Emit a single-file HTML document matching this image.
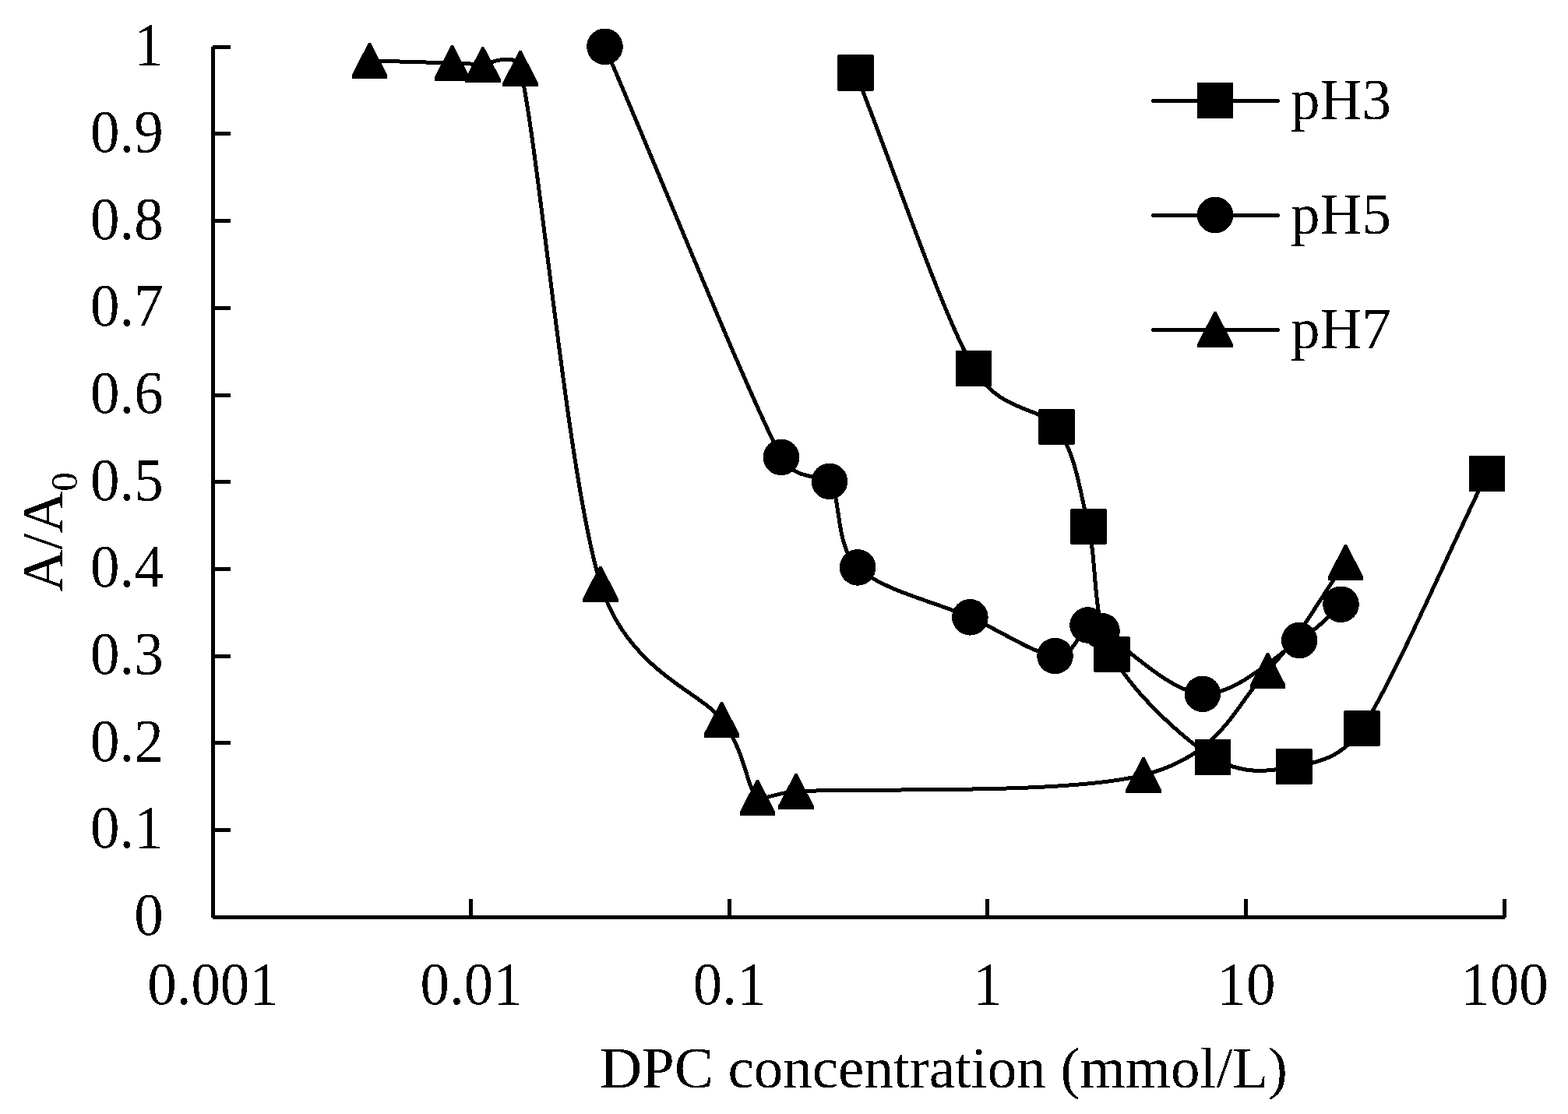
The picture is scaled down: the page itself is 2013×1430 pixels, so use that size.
<!DOCTYPE html><html><head><meta charset="utf-8"><style>html,body{margin:0;padding:0;background:#fff;}svg{display:block;}text{font-family:"Liberation Serif","Times New Roman",serif;font-size:75px;fill:#000;}</style></head><body>
<svg width="2013" height="1430" viewBox="0 0 2013 1430" shape-rendering="crispEdges">
<defs><filter id="bin" x="0" y="0" width="100%" height="100%" filterUnits="userSpaceOnUse"><feComponentTransfer><feFuncA type="discrete" tableValues="0 1"/></feComponentTransfer></filter></defs>
<rect width="100%" height="100%" fill="#fff"/>
<g filter="url(#bin)">
<g fill="#000"><rect x="271" y="60" width="5" height="1118"/><rect x="273" y="1175" width="1659" height="5"/><rect x="273" y="58" width="23" height="5"/><rect x="273" y="169" width="23" height="5"/><rect x="273" y="281" width="23" height="5"/><rect x="273" y="393" width="23" height="5"/><rect x="273" y="505" width="23" height="5"/><rect x="273" y="616" width="23" height="5"/><rect x="273" y="728" width="23" height="5"/><rect x="273" y="840" width="23" height="5"/><rect x="273" y="951" width="23" height="5"/><rect x="273" y="1063" width="23" height="5"/><rect x="273" y="1175" width="23" height="5"/><rect x="602" y="1154" width="5" height="24"/><rect x="934" y="1154" width="5" height="24"/><rect x="1265" y="1154" width="5" height="24"/><rect x="1597" y="1154" width="5" height="24"/><rect x="1929" y="1154" width="5" height="24"/></g>
<text transform="translate(209.75,83.10) scale(1,1.05)" text-anchor="end">1</text>
<text transform="translate(209.75,194.80) scale(1,1.05)" text-anchor="end">0.9</text>
<text transform="translate(209.75,306.50) scale(1,1.05)" text-anchor="end">0.8</text>
<text transform="translate(209.75,418.20) scale(1,1.05)" text-anchor="end">0.7</text>
<text transform="translate(209.75,529.90) scale(1,1.05)" text-anchor="end">0.6</text>
<text transform="translate(209.75,641.60) scale(1,1.05)" text-anchor="end">0.5</text>
<text transform="translate(209.75,753.30) scale(1,1.05)" text-anchor="end">0.4</text>
<text transform="translate(209.75,865.00) scale(1,1.05)" text-anchor="end">0.3</text>
<text transform="translate(209.75,976.70) scale(1,1.05)" text-anchor="end">0.2</text>
<text transform="translate(209.75,1088.40) scale(1,1.05)" text-anchor="end">0.1</text>
<text transform="translate(209.75,1200.10) scale(1,1.05)" text-anchor="end">0</text>
<text transform="translate(273.50,1289) scale(1,1.05)" text-anchor="middle">0.001</text>
<text transform="translate(605.10,1289) scale(1,1.05)" text-anchor="middle">0.01</text>
<text transform="translate(936.70,1289) scale(1,1.05)" text-anchor="middle">0.1</text>
<text transform="translate(1268.30,1289) scale(1,1.05)" text-anchor="middle">1</text>
<text transform="translate(1599.90,1289) scale(1,1.05)" text-anchor="middle">10</text>
<text transform="translate(1931.50,1289) scale(1,1.05)" text-anchor="middle">100</text>
<text x="769.9" y="1396">DPC concentration (mmol/L)</text>
<text transform="translate(79.8,759.8) rotate(-90)">A/A<tspan font-size="49" dy="18.7">0</tspan></text>
<path d="M1098.50,93.50 C1149.00,220.00 1207.00,397.25 1250.00,473.00 C1282.15,529.64 1338.12,522.70 1356.50,548.00 C1381.08,581.83 1385.67,627.33 1397.50,676.00 C1409.33,724.67 1400.92,790.67 1427.50,840.00 C1454.08,889.33 1518.02,948.00 1557.00,972.00 C1595.98,996.00 1629.48,990.17 1661.40,984.00 C1682.65,979.89 1721.02,976.73 1748.50,935.00 C1789.77,872.33 1855.50,717.00 1909.00,608.00" fill="none" stroke="#000" stroke-width="5" stroke-linejoin="round" stroke-linecap="round"/>
<path d="M776.50,59.90 C852.00,235.57 954.93,493.90 1003.00,586.90 C1018.89,617.65 1059.49,610.10 1064.90,617.90 C1081.25,641.48 1071.02,699.33 1101.10,728.40 C1131.18,757.47 1203.17,773.37 1245.40,792.30 C1287.63,811.23 1329.32,840.30 1354.50,842.00 C1379.68,843.70 1386.50,807.83 1396.50,802.50 C1405.10,797.91 1406.14,804.99 1414.50,810.00 C1439.07,824.72 1501.62,888.80 1543.90,890.80 C1586.18,892.80 1638.60,841.17 1668.20,822.00 C1697.80,802.83 1703.73,791.20 1721.50,775.80" fill="none" stroke="#000" stroke-width="5" stroke-linejoin="round" stroke-linecap="round"/>
<path d="M474.40,77.90 C509.77,78.93 556.25,80.15 580.50,81.00 C600.21,81.69 608.03,82.07 619.90,83.00 C623.00,83.24 662.75,64.27 668.10,87.90 C693.28,199.03 727.95,610.48 771.00,749.80 C805.44,861.25 899.53,887.27 926.40,923.80 C959.02,968.15 957.04,1008.89 972.50,1023.80 C977.31,1028.44 996.93,1017.36 1021.90,1015.90 C1104.48,1011.08 1367.05,1020.77 1468.00,994.90 C1568.95,969.03 1584.35,906.20 1627.60,860.70 C1670.85,815.20 1694.20,768.17 1727.50,721.90" fill="none" stroke="#000" stroke-width="5" stroke-linejoin="round" stroke-linecap="round"/>
<g fill="#000"><rect x="1075.20" y="70.20" width="46.60" height="46.60" rx="2"/><rect x="1226.70" y="449.70" width="46.60" height="46.60" rx="2"/><rect x="1333.20" y="524.70" width="46.60" height="46.60" rx="2"/><rect x="1374.20" y="652.70" width="46.60" height="46.60" rx="2"/><rect x="1404.20" y="816.70" width="46.60" height="46.60" rx="2"/><rect x="1533.70" y="948.70" width="46.60" height="46.60" rx="2"/><rect x="1638.10" y="960.70" width="46.60" height="46.60" rx="2"/><rect x="1725.20" y="911.70" width="46.60" height="46.60" rx="2"/><rect x="1885.70" y="584.70" width="46.60" height="46.60" rx="2"/></g>
<g fill="#000"><circle cx="776.50" cy="59.90" r="23.30"/><circle cx="1003.00" cy="586.90" r="23.30"/><circle cx="1064.90" cy="617.90" r="23.30"/><circle cx="1101.10" cy="728.40" r="23.30"/><circle cx="1245.40" cy="792.30" r="23.30"/><circle cx="1354.50" cy="842.00" r="23.30"/><circle cx="1396.50" cy="802.50" r="23.30"/><circle cx="1414.50" cy="810.00" r="23.30"/><circle cx="1543.90" cy="890.80" r="23.30"/><circle cx="1668.20" cy="822.00" r="23.30"/><circle cx="1721.50" cy="775.80" r="23.30"/></g>
<g fill="#000"><polygon points="451.60,100.90 451.60,96.30 473.10,54.90 475.70,54.90 497.20,96.30 497.20,100.90"/><polygon points="557.70,104.00 557.70,99.40 579.20,58.00 581.80,58.00 603.30,99.40 603.30,104.00"/><polygon points="597.10,106.00 597.10,101.40 618.60,60.00 621.20,60.00 642.70,101.40 642.70,106.00"/><polygon points="645.30,110.90 645.30,106.30 666.80,64.90 669.40,64.90 690.90,106.30 690.90,110.90"/><polygon points="748.20,772.80 748.20,768.20 769.70,726.80 772.30,726.80 793.80,768.20 793.80,772.80"/><polygon points="903.60,946.80 903.60,942.20 925.10,900.80 927.70,900.80 949.20,942.20 949.20,946.80"/><polygon points="949.70,1046.80 949.70,1042.20 971.20,1000.80 973.80,1000.80 995.30,1042.20 995.30,1046.80"/><polygon points="999.10,1038.90 999.10,1034.30 1020.60,992.90 1023.20,992.90 1044.70,1034.30 1044.70,1038.90"/><polygon points="1445.20,1017.90 1445.20,1013.30 1466.70,971.90 1469.30,971.90 1490.80,1013.30 1490.80,1017.90"/><polygon points="1604.80,883.70 1604.80,879.10 1626.30,837.70 1628.90,837.70 1650.40,879.10 1650.40,883.70"/><polygon points="1704.70,744.90 1704.70,740.30 1726.20,698.90 1728.80,698.90 1750.30,740.30 1750.30,744.90"/></g>
<line x1="1480.5" y1="129.40" x2="1640.5" y2="129.40" stroke="#000" stroke-width="5" stroke-linecap="round"/>
<g fill="#000"><rect x="1536.70" y="105.70" width="46.60" height="46.60" rx="2"/></g>
<text x="1656.9" y="152.80">pH3</text>
<line x1="1480.5" y1="276.40" x2="1640.5" y2="276.40" stroke="#000" stroke-width="5" stroke-linecap="round"/>
<g fill="#000"><circle cx="1560.00" cy="276.00" r="23.30"/></g>
<text x="1656.9" y="299.80">pH5</text>
<line x1="1480.5" y1="423.40" x2="1640.5" y2="423.40" stroke="#000" stroke-width="5" stroke-linecap="round"/>
<g fill="#000"><polygon points="1537.20,445.80 1537.20,441.20 1558.70,399.80 1561.30,399.80 1582.80,441.20 1582.80,445.80"/></g>
<text x="1656.9" y="446.80">pH7</text>
</g></svg></body></html>
